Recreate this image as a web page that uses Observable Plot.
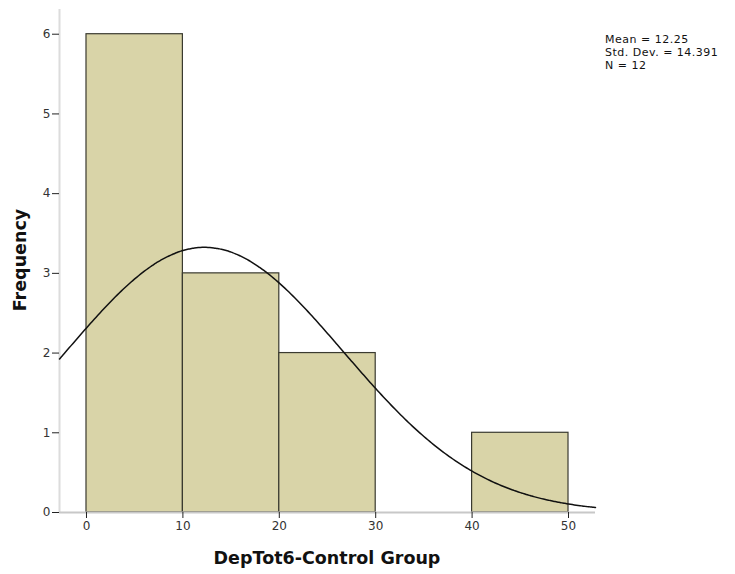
<!DOCTYPE html>
<html><head><meta charset="utf-8">
<script src="https://cdn.jsdelivr.net/npm/d3@7"></script>
<script src="https://cdn.jsdelivr.net/npm/@observablehq/plot@0.6"></script>
<style>
body{margin:0;background:#fff;}
#wrap{position:relative;width:735px;height:574px;}
#stats{position:absolute;left:605px;top:33px;font:11px "DejaVu Sans",sans-serif;line-height:13px;letter-spacing:0.5px;color:#111;white-space:nowrap;}
.lab{position:absolute;font:bold 17.5px "DejaVu Sans",sans-serif;color:#111;white-space:nowrap;}
#xlab{left:327px;top:558px;transform:translate(-50%,-50%);}
#ylab{left:20px;top:260px;transform:translate(-50%,-50%) rotate(-90deg);}
</style></head>
<body><div id="wrap"><div id="stats"></div><div id="xlab" class="lab"></div><div id="ylab" class="lab"></div></div>
<script>
const binStarts = [0, 10, 20, 30, 40];
const binWidth = 10;
const counts = [6, 3, 2, 0, 1];
const xTicks = [0, 10, 20, 30, 40, 50];
const yTicks = [0, 1, 2, 3, 4, 5, 6];
const mean = 12.25, sd = 14.391, n = 12;
const statLines = ["Mean = 12.25", "Std. Dev. = 14.391", "N = 12"];
const xLabel = "DepTot6-Control Group";
const yLabel = "Frequency";
const xDomain = [-2.8, 52.8];
const yDomain = [0, 6.31];

const bars = binStarts.map((s, i) => ({x1: s, x2: s + binWidth, y: counts[i]})).filter(d => d.y > 0);
const curve = d3.range(xDomain[0], xDomain[1] + 0.001, 0.2).map(x => ({
  x, y: n * binWidth * Math.exp(-0.5 * ((x - mean) / sd) ** 2) / (sd * Math.sqrt(2 * Math.PI))
}));

const chart = Plot.plot({
  width: 735, height: 574,
  marginLeft: 59, marginRight: 140, marginTop: 9, marginBottom: 62,
  style: {fontFamily: "DejaVu Sans, sans-serif", fontSize: "12px", color: "#333", background: "#fff"},
  x: {domain: xDomain, label: null},
  y: {domain: yDomain, label: null},
  marks: [
    Plot.rectY(bars, {x1: "x1", x2: "x2", y: "y", fill: "#d9d4a8", stroke: "#3a3a30", strokeWidth: 1.2}),
    Plot.ruleX([xDomain[0]], {stroke: "#dcdcdc", strokeWidth: 2}),
    Plot.ruleY([0], {stroke: "#c8c8c8", strokeWidth: 2}),
    Plot.line(curve, {x: "x", y: "y", stroke: "#111", strokeWidth: 1.5, curve: "basis"}),
    Plot.axisX({ticks: xTicks, tickSize: 6, tickPadding: 3, stroke: "#222", label: null, tickFormat: d3.format("d")}),
    Plot.axisY({ticks: yTicks, tickSize: 7, tickPadding: 2, stroke: "#222", label: null, tickFormat: d3.format("d")})
  ]
});
const wrap = document.getElementById("wrap");
wrap.insertBefore(chart, wrap.firstChild);
document.getElementById("stats").innerHTML = statLines.join("<br>");
document.getElementById("xlab").textContent = xLabel;
document.getElementById("ylab").textContent = yLabel;
</script></body></html>
